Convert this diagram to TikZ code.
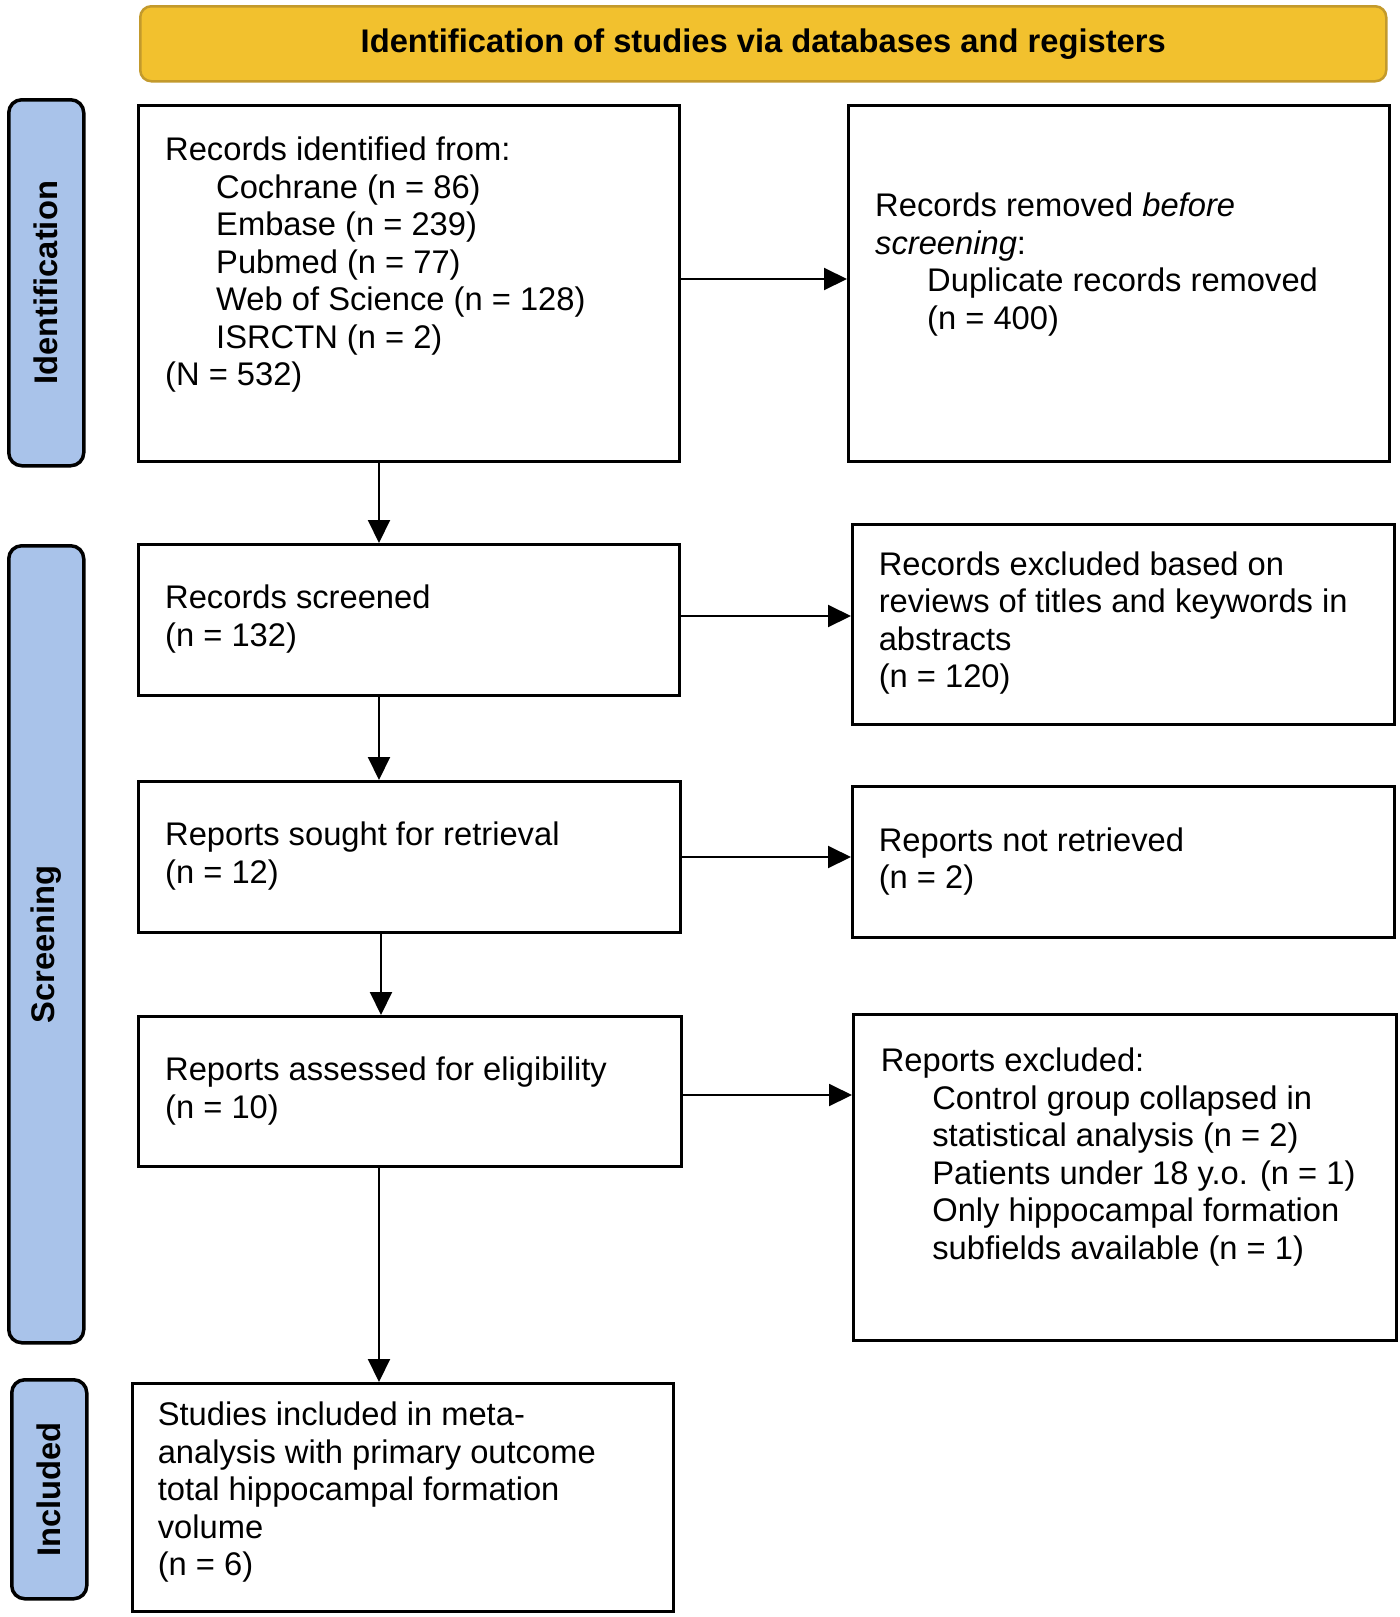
\documentclass[tikz,border=0pt]{standalone}
\usepackage{fontspec}
\setmainfont{Liberation Sans}
\usetikzlibrary{arrows.meta}
\definecolor{goldfill}{HTML}{F2C12E}
\definecolor{goldline}{HTML}{C39A2C}
\definecolor{sidefill}{HTML}{A9C3EA}
\begin{document}
\begin{tikzpicture}[x=1pt,y=-1pt,
  box/.style={draw=black,line width=3pt,rectangle,anchor=north west,inner sep=0pt,fill=white},
  sidebar/.style={draw=black,line width=3.5pt,fill=sidefill,rounded corners=13pt,anchor=north west,inner sep=0pt},
  txt/.style={anchor=north west,inner sep=0pt,align=left,font=\fontsize{32.7}{37.5}\selectfont},
  sidetxt/.style={rotate=90,inner sep=0pt,font=\fontsize{32.7}{37.5}\selectfont\bfseries},
  arr/.style={line width=2pt,-{Triangle[length=23pt,width=22pt]}}]
\useasboundingbox (0,0) rectangle (1400,1617);
\fill[white] (0,0) rectangle (1400,1617);

% title bar
\node[draw=goldline,line width=2.5pt,fill=goldfill,rounded corners=11pt,anchor=north west,inner sep=0pt,
      minimum width=1246pt,minimum height=75pt,font=\fontsize{32.7}{37.5}\selectfont\bfseries]
      (title) at (139,5) {Identification of studies via databases and registers};

% side bars
\node[sidebar,minimum width=75pt,minimum height=366pt] (s1) at (7,98) {};
\node[sidebar,minimum width=75pt,minimum height=797pt] (s2) at (7,544) {};
\node[sidebar,minimum width=75pt,minimum height=219pt] (s3) at (10,1378) {};
\node[sidetxt] (l1) at (s1.center) {Identification};
\node[sidetxt] (l2) at (s2.center) {Screening};
\node[sidetxt] (l3) at (s3.center) {Included};

% left boxes
\node[box,minimum width=541pt,minimum height=356pt] (b1) at (137,104) {};
\node[box,minimum width=541pt,minimum height=151pt] (b2) at (137,543) {};
\node[box,minimum width=542pt,minimum height=151pt] (b3) at (137,780) {};
\node[box,minimum width=543pt,minimum height=150pt] (b4) at (137,1015) {};
\node[box,minimum width=541pt,minimum height=228pt] (b5) at (131,1382) {};

% right boxes
\node[box,minimum width=541pt,minimum height=356pt] (r1) at (847,104) {};
\node[box,minimum width=542pt,minimum height=200pt] (r2) at (851,523) {};
\node[box,minimum width=542pt,minimum height=151pt] (r3) at (851,785) {};
\node[box,minimum width=543pt,minimum height=326pt] (r4) at (852,1013) {};

% texts
\node[txt] (t1) at (165,134.5) {\strut Records identified from:\\
  \hspace*{51pt}Cochrane (n = 86)\\
  \hspace*{51pt}Embase (n = 239)\\
  \hspace*{51pt}Pubmed (n = 77)\\
  \hspace*{51pt}Web of Science (n = 128)\\
  \hspace*{51pt}ISRCTN (n = 2)\\
  (N = 532)};
\node[txt] (tr1) at (875,190.5) {\strut Records removed \textit{before}\\
  \textit{screening}:\\
  \hspace*{52pt}Duplicate records removed\\
  \hspace*{52pt}(n = 400)};
\node[txt] (t2) at (165,582.5) {\strut Records screened\\ (n = 132)};
\node[txt] (tr2) at (878.6,549) {\strut Records excluded based on\\
  reviews of titles and keywords in\\
  abstracts\\
  (n = 120)};
\node[txt] (t3) at (165,819.5) {\strut Reports sought for retrieval\\ (n = 12)};
\node[txt] (tr3) at (878.6,825) {\strut Reports not retrieved\\ (n = 2)};
\node[txt] (t4) at (165,1054.5) {\strut Reports assessed for eligibility\\ (n = 10)};
\node[txt] (tr4) at (880.6,1045.5) {\strut Reports excluded:\\
  \hspace*{51.5pt}Control group collapsed in\\
  \hspace*{51.5pt}statistical analysis (n = 2)\\
  \hspace*{51.5pt}Patients under 18 y.o. (n = 1)\\
  \hspace*{51.5pt}Only hippocampal formation\\
  \hspace*{51.5pt}subfields available (n = 1)};
\node[txt] (t5) at (157.6,1399.5) {\strut Studies included in meta-\\
  analysis with primary outcome\\
  total hippocampal formation\\
  volume\\
  (n = 6)};

% connectors
\coordinate (vx) at (379,0);
\coordinate (vy) at (381,0);
\coordinate (h1) at (0,279);
\coordinate (h2) at (0,616);
\coordinate (h3) at (0,857);
\coordinate (h4) at (0,1095);
\draw[arr] (b1.south -| vx) -- (b2.north -| vx);
\draw[arr] (b2.south -| vx) -- (b3.north -| vx);
\draw[arr] (b3.south -| vy) -- (b4.north -| vy);
\draw[arr] (b4.south -| vx) -- (b5.north -| vx);

\draw[arr] (b1.east |- h1) -- (r1.west |- h1);
\draw[arr] (b2.east |- h2) -- (r2.west |- h2);
\draw[arr] (b3.east |- h3) -- (r3.west |- h3);
\draw[arr] (b4.east |- h4) -- (r4.west |- h4);
\end{tikzpicture}
\end{document}
